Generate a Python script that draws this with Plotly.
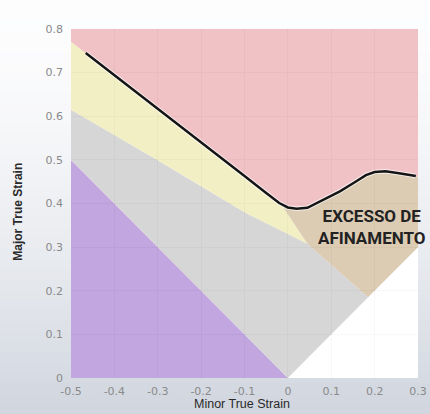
import plotly.graph_objects as go

# ---- data ----
# Forming limit curve (black line)
flc_x = [-0.466, -0.3, -0.2, -0.1, -0.05, -0.02, 0.0, 0.02, 0.045, 0.08, 0.12, 0.156, 0.18, 0.2, 0.225, 0.26, 0.295]
flc_y = [0.745, 0.618, 0.541, 0.463, 0.424, 0.401, 0.391, 0.388, 0.39, 0.408, 0.428, 0.45, 0.465, 0.472, 0.474, 0.469, 0.463]

# region boundaries
flc_left = [-0.5, 0.771]          # FLC extended to left edge
flc_right = [0.3, 0.462]          # FLC extended to right edge
safe_x = [-0.5, -0.31, -0.2, -0.1, 0.045]     # top of grey (safe) zone
safe_y = [0.615, 0.505, 0.44, 0.38, 0.308]
split_x = -0.012                   # yellow / tan split on the FLC
split_y = 0.393
diag_x = [0.0, 0.185, 0.3]         # y = x line (lower right)
diag_y = [0.0, 0.185, 0.3]
wrink_x = [-0.5, 0.0]              # purple zone edge
wrink_y = [0.5, 0.0]

x_range = [-0.5, 0.3]
y_range = [0.0, 0.8]
x_ticks = [-0.5, -0.4, -0.3, -0.2, -0.1, 0, 0.1, 0.2, 0.3]
x_ticklabels = ["-0.5", "-0.4", "-0.3", "-0.2", "-0.1", "0", "0.1", "0.2", "0.3"]
y_ticks = [0, 0.1, 0.2, 0.3, 0.4, 0.5, 0.6, 0.7, 0.8]
y_ticklabels = ["0", "0.1", "0.2", "0.3", "0.4", "0.5", "0.6", "0.7", "0.8"]

label_text = "EXCESSO DE<br>AFINAMENTO"
x_title = "Minor True Strain"
y_title = "Major True Strain"

# ---- helpers ----
A = 0.88
def fc(r, g, b, a=A):
    f = lambda c: max(0, min(255, round((c - (1 - a) * 255) / a)))
    return f"rgba({f(r)},{f(g)},{f(b)},{a})"

left_flc = [(x, y) for x, y in zip(flc_x, flc_y) if x < split_x]
right_flc = [(x, y) for x, y in zip(flc_x, flc_y) if x > split_x]

fig = go.Figure()

def poly(xs, ys, color):
    fig.add_trace(go.Scatter(x=xs + [xs[0]], y=ys + [ys[0]], mode="lines", fill="toself",
                             fillcolor=color, line=dict(width=0), hoverinfo="skip",
                             showlegend=False))

# white (below diagonal)
poly([diag_x[0], x_range[1], x_range[1]], [diag_y[0], y_range[0], diag_y[-1]], fc(255, 255, 255))
# purple
poly([x_range[0], wrink_x[0], wrink_x[1]], [y_range[0], wrink_y[0], wrink_y[1]], fc(193, 166, 224))
# grey
poly([wrink_x[0]] + safe_x + [diag_x[1], diag_x[0]],
     [wrink_y[0]] + safe_y + [diag_y[1], diag_y[0]], fc(214, 214, 214))
# yellow
poly(safe_x[::-1] + [flc_left[0]] + [p[0] for p in left_flc] + [split_x],
     safe_y[::-1] + [flc_left[1]] + [p[1] for p in left_flc] + [split_y], fc(243, 239, 196))
# tan
poly([split_x] + [p[0] for p in right_flc] + [flc_right[0], diag_x[2], diag_x[1], safe_x[-1]],
     [split_y] + [p[1] for p in right_flc] + [flc_right[1], diag_y[2], diag_y[1], safe_y[-1]],
     fc(221, 204, 180))
# red
poly([flc_left[0]] + flc_x + [flc_right[0], x_range[1], x_range[0]],
     [flc_left[1]] + flc_y + [flc_right[1], y_range[1], y_range[1]], fc(240, 193, 197))

# FLC line (with light halo)
fig.add_trace(go.Scatter(x=flc_x, y=flc_y, mode="lines", line=dict(color="rgba(255,255,255,0.7)", width=4.5),
                         hoverinfo="skip", showlegend=False))
fig.add_trace(go.Scatter(x=flc_x, y=flc_y, mode="lines", line=dict(color="#151515", width=2.5),
                         hoverinfo="skip", showlegend=False))

# background gradient (paper) + white plot area
shapes = []
N = 40
top = (253, 253, 254)
bot = (208, 213, 222)
for i in range(N):
    t0 = i / N
    t1 = (i + 1) / N
    tm = ((t0 + t1) / 2) ** 1.6
    c = tuple(round(top[k] + (bot[k] - top[k]) * tm) for k in range(3))
    # paper y: px 0 -> 1.083, px 414 -> -0.103
    y_hi = 1.083 - t0 * 1.186
    y_lo = 1.083 - t1 * 1.186 - 0.002
    shapes.append(dict(type="rect", xref="paper", yref="paper", x0=-0.25, x1=1.1, y0=y_lo, y1=y_hi,
                       fillcolor=f"rgb{c}", line=dict(width=0), layer="below"))
shapes.append(dict(type="rect", xref="x", yref="y", x0=x_range[0], x1=x_range[1], y0=y_range[0], y1=y_range[1],
                   fillcolor="white", line=dict(width=0), layer="below"))

fig.update_layout(
    width=430, height=414,
    margin=dict(l=71, r=12, t=29, b=36, autoexpand=False),
    paper_bgcolor="#eceef2", plot_bgcolor="white",
    shapes=shapes,
    xaxis=dict(range=x_range, tickvals=x_ticks, ticktext=x_ticklabels, showgrid=True,
               gridcolor="#c4c4c4", gridwidth=1, zeroline=False, showline=False, ticks="",
               ticklabelstandoff=5, automargin=False,
               tickfont=dict(family="DejaVu Sans", size=11, color="#8a8a8a"), fixedrange=True),
    yaxis=dict(range=y_range, tickvals=y_ticks, ticktext=y_ticklabels, showgrid=True,
               gridcolor="#c4c4c4", gridwidth=1, zeroline=False, showline=False, ticks="",
               ticklabelstandoff=7, automargin=False,
               tickfont=dict(family="DejaVu Sans", size=11, color="#8a8a8a"), fixedrange=True),
    annotations=[
        dict(x=0.195, y=0.346, xref="x", yref="y", text=f"<b>{label_text}</b>", showarrow=False,
             font=dict(family="Roboto", size=17, color="#222222"), align="center"),
        dict(x=0.493, y=-0.0745, xref="paper", yref="paper", text=x_title, showarrow=False,
             font=dict(family="Liberation Sans", size=12.5, color="#2a2a2a"), yanchor="middle"),
        dict(x=-0.153, y=0.476, xref="paper", yref="paper", text=f"<b>{y_title}</b>", showarrow=False,
             textangle=-90, font=dict(family="Liberation Sans", size=12, color="#2a2a2a"),
             xanchor="center", yanchor="middle"),
    ],
)

fig.write_html("out.html", config={"displayModeBar": False},
               post_script="document.body.style.margin='0';document.body.style.overflow='hidden';")
